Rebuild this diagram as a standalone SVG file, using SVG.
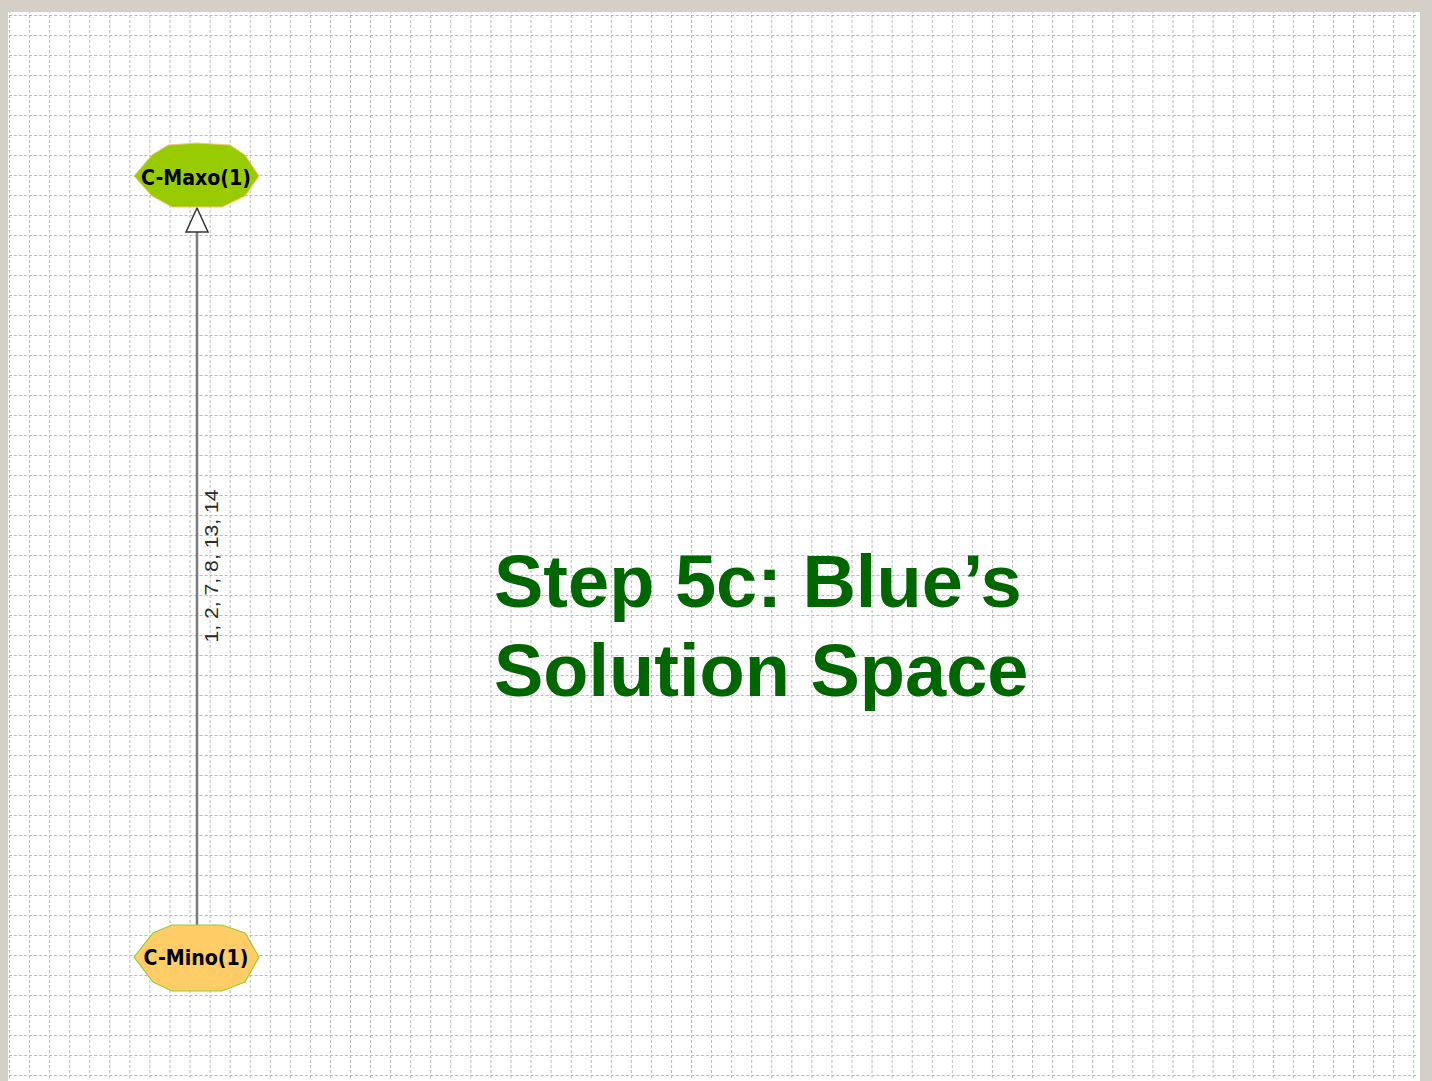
<svg xmlns="http://www.w3.org/2000/svg" width="1432" height="1081" viewBox="0 0 1432 1081">
  <style>
    .nodeText { font-family: "DejaVu Sans", "Liberation Sans", sans-serif; font-weight: bold; font-size: 21px; fill: #000; }
    .edgeLabel { font-family: "Liberation Sans", Arial, sans-serif; font-size: 19px; fill: #2a2a2a; }
    .title { font-family: "Liberation Sans", Arial, sans-serif; font-weight: bold; font-size: 74px; fill: #006600; }
    .edge { stroke: #7a7a7a; stroke-width: 2.5; fill: none; }
  </style>
  <defs>
    <pattern id="grid" x="9" y="15" width="20.06" height="20" patternUnits="userSpaceOnUse">
      <path d="M0 0.5 H20.06 M0.5 0 V20" stroke="#b8b8b8" stroke-width="1" stroke-dasharray="3 2" fill="none"/>
    </pattern>
  </defs>

  <rect x="0" y="0" width="1432" height="1081" fill="#d4d0c8"/>
  <rect x="8" y="12" width="1412" height="1069" fill="#fff"/>
  <rect x="8" y="12" width="1408" height="1068" fill="url(#grid)"/>

  <g id="connectors">
    <line class="edge" x1="197" y1="926" x2="197" y2="232"/>
    <path d="M197 208 L186 232 L208 232 Z" fill="#fff" stroke="#333" stroke-width="1.5"/>
    <text class="edgeLabel" transform="translate(218,566) rotate(-90)" text-anchor="middle" textLength="153" lengthAdjust="spacingAndGlyphs">1, 2, 7, 8, 13, 14</text>
  </g>

  <g id="node-cmaxo">
    <polygon points="134,176 152,155 168,145 197,143 230,145 245,155 259,176 245,196 222,207 172,207 152,196" fill="#99cc00" stroke="#f0c878" stroke-width="1"/>
    <text class="nodeText" x="196" y="185" text-anchor="middle" textLength="110" lengthAdjust="spacingAndGlyphs">C-Maxo(1)</text>
  </g>

  <g id="node-cmino">
    <polygon points="134,957 153,933 172,925 222,925 245,933 259,957 245,982 222,991 172,991 153,982" fill="#ffcc66" stroke="#99cc33" stroke-width="1.2"/>
    <text class="nodeText" x="196" y="965" text-anchor="middle" textLength="105" lengthAdjust="spacingAndGlyphs">C-Mino(1)</text>
  </g>

  <g id="title">
    <text class="title" x="494" y="607">Step 5c: Blue’s</text>
    <text class="title" x="494" y="696">Solution Space</text>
  </g>
</svg>
